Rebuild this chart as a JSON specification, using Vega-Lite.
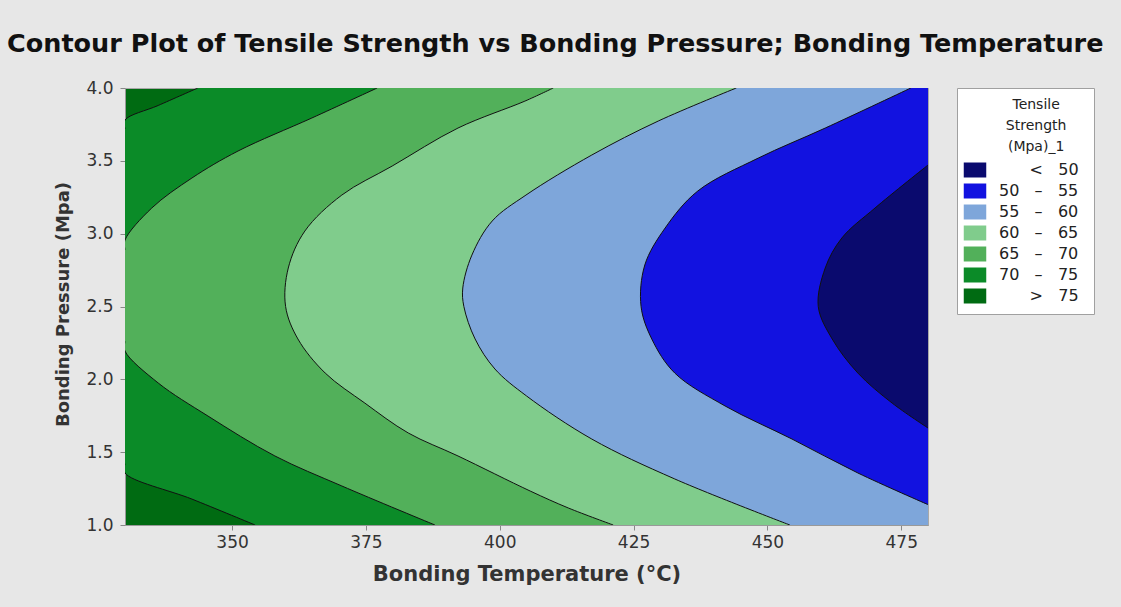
{
  "$schema": "https://vega.github.io/schema/vega-lite/v6.json",
  "autosize": {"type": "none"},
  "width": 803,
  "height": 437,
  "padding": {"left": 125, "top": 88, "right": 193, "bottom": 82},
  "background": "#e7e7e7",
  "view": {"fill": "#006b12", "stroke": "#a8a8a8", "strokeWidth": 1},
  "title": {
    "text": "Contour Plot of Tensile Strength vs Bonding Pressure; Bonding Temperature",
    "anchor": "start",
    "frame": "group",
    "dx": -118,
    "dy": 36,
    "offset": 38,
    "baseline": "alphabetic",
    "font": "DejaVu Sans",
    "fontSize": 25.5,
    "fontWeight": "bold",
    "color": "#111111"
  },
  "data": {
    "values": [
      {"lvl": 75, "seg": "75b", "band": "70 – 75", "P": 1.0, "T": 354.3},
      {"lvl": 75, "seg": "75b", "band": "70 – 75", "P": 1.178, "T": 342.5},
      {"lvl": 75, "seg": "75b", "band": "70 – 75", "P": 1.357, "T": 330.0},
      {"lvl": 75, "seg": "75b", "band": "70 – 75", "P": 1.42, "T": 330.0},
      {"lvl": 75, "seg": "75a", "band": "70 – 75", "P": 3.72, "T": 330.0},
      {"lvl": 75, "seg": "75a", "band": "70 – 75", "P": 3.78, "T": 330.0},
      {"lvl": 75, "seg": "75a", "band": "70 – 75", "P": 3.88, "T": 336.2},
      {"lvl": 75, "seg": "75a", "band": "70 – 75", "P": 4.0, "T": 343.6},

      {"lvl": 70, "seg": "70b", "band": "65 – 70", "P": 1.0, "T": 387.9},
      {"lvl": 70, "seg": "70b", "band": "65 – 70", "P": 1.268, "T": 370.5},
      {"lvl": 70, "seg": "70b", "band": "65 – 70", "P": 1.474, "T": 358.0},
      {"lvl": 70, "seg": "70b", "band": "65 – 70", "P": 1.748, "T": 345.5},
      {"lvl": 70, "seg": "70b", "band": "65 – 70", "P": 1.975, "T": 336.2},
      {"lvl": 70, "seg": "70b", "band": "65 – 70", "P": 2.194, "T": 330.0},
      {"lvl": 70, "seg": "70b", "band": "65 – 70", "P": 2.26, "T": 330.0},
      {"lvl": 70, "seg": "70a", "band": "65 – 70", "P": 2.89, "T": 330.0},
      {"lvl": 70, "seg": "70a", "band": "65 – 70", "P": 2.956, "T": 330.0},
      {"lvl": 70, "seg": "70a", "band": "65 – 70", "P": 3.176, "T": 335.0},
      {"lvl": 70, "seg": "70a", "band": "65 – 70", "P": 3.382, "T": 342.5},
      {"lvl": 70, "seg": "70a", "band": "65 – 70", "P": 3.567, "T": 351.1},
      {"lvl": 70, "seg": "70a", "band": "65 – 70", "P": 3.794, "T": 364.9},
      {"lvl": 70, "seg": "70a", "band": "65 – 70", "P": 4.0, "T": 377.1},

      {"lvl": 65, "seg": "65", "band": "60 – 65", "P": 1.0, "T": 421.2},
      {"lvl": 65, "seg": "65", "band": "60 – 65", "P": 1.117, "T": 412.8},
      {"lvl": 65, "seg": "65", "band": "60 – 65", "P": 1.233, "T": 405.7},
      {"lvl": 65, "seg": "65", "band": "60 – 65", "P": 1.474, "T": 392.2},
      {"lvl": 65, "seg": "65", "band": "60 – 65", "P": 1.632, "T": 382.9},
      {"lvl": 65, "seg": "65", "band": "60 – 65", "P": 1.837, "T": 374.8},
      {"lvl": 65, "seg": "65", "band": "60 – 65", "P": 2.043, "T": 367.4},
      {"lvl": 65, "seg": "65", "band": "60 – 65", "P": 2.277, "T": 362.3},
      {"lvl": 65, "seg": "65", "band": "60 – 65", "P": 2.5, "T": 360.0},
      {"lvl": 65, "seg": "65", "band": "60 – 65", "P": 2.764, "T": 360.5},
      {"lvl": 65, "seg": "65", "band": "60 – 65", "P": 3.018, "T": 363.6},
      {"lvl": 65, "seg": "65", "band": "60 – 65", "P": 3.265, "T": 370.5},
      {"lvl": 65, "seg": "65", "band": "60 – 65", "P": 3.464, "T": 379.9},
      {"lvl": 65, "seg": "65", "band": "60 – 65", "P": 3.725, "T": 392.2},
      {"lvl": 65, "seg": "65", "band": "60 – 65", "P": 3.91, "T": 404.7},
      {"lvl": 65, "seg": "65", "band": "60 – 65", "P": 4.0, "T": 410.0},

      {"lvl": 60, "seg": "60", "band": "55 – 60", "P": 1.0, "T": 454.2},
      {"lvl": 60, "seg": "60", "band": "55 – 60", "P": 1.316, "T": 432.7},
      {"lvl": 60, "seg": "60", "band": "55 – 60", "P": 1.59, "T": 417.2},
      {"lvl": 60, "seg": "60", "band": "55 – 60", "P": 1.886, "T": 405.0},
      {"lvl": 60, "seg": "60", "band": "55 – 60", "P": 2.071, "T": 399.1},
      {"lvl": 60, "seg": "60", "band": "55 – 60", "P": 2.277, "T": 395.4},
      {"lvl": 60, "seg": "60", "band": "55 – 60", "P": 2.5, "T": 393.3},
      {"lvl": 60, "seg": "60", "band": "55 – 60", "P": 2.627, "T": 393.1},
      {"lvl": 60, "seg": "60", "band": "55 – 60", "P": 2.853, "T": 394.8},
      {"lvl": 60, "seg": "60", "band": "55 – 60", "P": 3.087, "T": 398.6},
      {"lvl": 60, "seg": "60", "band": "55 – 60", "P": 3.265, "T": 404.9},
      {"lvl": 60, "seg": "60", "band": "55 – 60", "P": 3.54, "T": 417.2},
      {"lvl": 60, "seg": "60", "band": "55 – 60", "P": 3.773, "T": 429.6},
      {"lvl": 60, "seg": "60", "band": "55 – 60", "P": 4.0, "T": 444.2},

      {"lvl": 55, "seg": "55", "band": "50 – 55", "P": 1.14, "T": 480.0},
      {"lvl": 55, "seg": "55", "band": "50 – 55", "P": 1.357, "T": 466.9},
      {"lvl": 55, "seg": "55", "band": "50 – 55", "P": 1.59, "T": 454.6},
      {"lvl": 55, "seg": "55", "band": "50 – 55", "P": 1.817, "T": 442.1},
      {"lvl": 55, "seg": "55", "band": "50 – 55", "P": 2.043, "T": 432.7},
      {"lvl": 55, "seg": "55", "band": "50 – 55", "P": 2.277, "T": 428.4},
      {"lvl": 55, "seg": "55", "band": "50 – 55", "P": 2.5, "T": 426.4},
      {"lvl": 55, "seg": "55", "band": "50 – 55", "P": 2.785, "T": 427.1},
      {"lvl": 55, "seg": "55", "band": "50 – 55", "P": 3.039, "T": 430.9},
      {"lvl": 55, "seg": "55", "band": "50 – 55", "P": 3.293, "T": 437.0},
      {"lvl": 55, "seg": "55", "band": "50 – 55", "P": 3.519, "T": 448.3},
      {"lvl": 55, "seg": "55", "band": "50 – 55", "P": 3.725, "T": 460.8},
      {"lvl": 55, "seg": "55", "band": "50 – 55", "P": 4.0, "T": 476.8},

      {"lvl": 50, "seg": "50", "band": "< 50", "P": 1.666, "T": 480.0},
      {"lvl": 50, "seg": "50", "band": "< 50", "P": 1.837, "T": 473.3},
      {"lvl": 50, "seg": "50", "band": "< 50", "P": 2.043, "T": 466.9},
      {"lvl": 50, "seg": "50", "band": "< 50", "P": 2.277, "T": 462.1},
      {"lvl": 50, "seg": "50", "band": "< 50", "P": 2.5, "T": 459.5},
      {"lvl": 50, "seg": "50", "band": "< 50", "P": 2.764, "T": 460.8},
      {"lvl": 50, "seg": "50", "band": "< 50", "P": 2.97, "T": 463.9},
      {"lvl": 50, "seg": "50", "band": "< 50", "P": 3.176, "T": 470.1},
      {"lvl": 50, "seg": "50", "band": "< 50", "P": 3.471, "T": 480.0}
    ]
  },
  "encoding": {
    "x": {
      "field": "T",
      "type": "quantitative",
      "scale": {"domain": [330, 480], "nice": false, "zero": false},
      "axis": {
        "values": [350, 375, 400, 425, 450, 475],
        "title": "Bonding Temperature (°C)",
        "grid": false,
        "domainColor": "#999999",
        "tickColor": "#888888",
        "tickSize": 5,
        "labelFont": "DejaVu Sans",
        "labelFontSize": 17,
        "labelColor": "#333333",
        "labelPadding": 4,
        "titleFont": "DejaVu Sans",
        "titleFontSize": 21,
        "titleFontWeight": "bold",
        "titleColor": "#333333",
        "titleBaseline": "alphabetic",
        "titleY": 55
      }
    },
    "y": {
      "field": "P",
      "type": "quantitative",
      "scale": {"domain": [1, 4], "nice": false, "zero": false},
      "axis": {
        "values": [1, 1.5, 2, 2.5, 3, 3.5, 4],
        "format": ".1f",
        "title": "Bonding Pressure (Mpa)",
        "grid": false,
        "domainColor": "#999999",
        "tickColor": "#888888",
        "tickSize": 5,
        "labelFont": "DejaVu Sans",
        "labelFontSize": 17,
        "labelColor": "#333333",
        "labelPadding": 7,
        "titleFont": "DejaVu Sans",
        "titleFontSize": 18,
        "titleFontWeight": "bold",
        "titleColor": "#333333",
        "titleAngle": -90,
        "titleAlign": "center",
        "titleBaseline": "alphabetic",
        "titleX": -57,
        "titleY": 216
      }
    },
    "color": {
      "field": "band",
      "type": "nominal",
      "scale": {
        "domain": ["< 50", "50 – 55", "55 – 60", "60 – 65", "65 – 70", "70 – 75", "> 75"],
        "range": ["#0a0a6e", "#1212e0", "#7ea6da", "#80cc8c", "#52b05a", "#0b8b28", "#006b12"]
      },
      "legend": {
        "title": ["\u200b\u00a0\u00a0\u00a0\u00a0\u00a0Tensile", "\u200b\u00a0\u00a0\u00a0\u00a0\u00a0Strength", "\u200b\u00a0\u00a0\u00a0\u00a0\u00a0(Mpa)_1"],
        "orient": "none",
        "legendX": 832,
        "legendY": 0,
        "direction": "vertical",
        "padding": 10,
        "fillColor": "#ffffff",
        "strokeColor": "#a0a0a0",
        "titleFont": "DejaVu Sans",
        "titleFontSize": 14,
        "titleFontWeight": "normal",
        "titleColor": "#222222",
        "titleAlign": "center",
        "titleAnchor": "middle",
        "titleLineHeight": 21,
        "titlePadding": 8,
        "labelFont": "DejaVu Sans",
        "labelFontSize": 16,
        "labelColor": "#222222",
        "labelOffset": 16,
        "labelExpr": "datum.label === '< 50' ? '\u200b\u2007\u2007\u2007<\u00a0\u00a0\u00a050\u00a0\u200b' : datum.label === '> 75' ? '\u200b\u2007\u2007\u2007>\u00a0\u00a0\u00a075\u00a0\u200b' : replace(datum.label, ' – ', '\u00a0\u00a0\u00a0–\u00a0\u00a0\u00a0') + '\u00a0\u200b'",
        "symbolType": "M-1.5,-1L1.5,-1L1.5,1L-1.5,1Z",
        "symbolSize": 225,
        "symbolStrokeWidth": 0,
        "symbolOpacity": 1,
        "rowPadding": 5
      }
    }
  },
  "layer": [
    {
      "transform": [{"filter": "datum.lvl == 75"}],
      "mark": {"type": "area", "orient": "horizontal", "interpolate": "catmull-rom", "clip": true, "opacity": 1},
      "encoding": {"x2": {"datum": 480}}
    },
    {
      "transform": [{"filter": "datum.lvl == 70"}],
      "mark": {"type": "area", "orient": "horizontal", "interpolate": "catmull-rom", "clip": true, "opacity": 1},
      "encoding": {"x2": {"datum": 480}}
    },
    {
      "transform": [{"filter": "datum.lvl == 65"}],
      "mark": {"type": "area", "orient": "horizontal", "interpolate": "catmull-rom", "clip": true, "opacity": 1},
      "encoding": {"x2": {"datum": 480}}
    },
    {
      "transform": [{"filter": "datum.lvl == 60"}],
      "mark": {"type": "area", "orient": "horizontal", "interpolate": "catmull-rom", "clip": true, "opacity": 1},
      "encoding": {"x2": {"datum": 480}}
    },
    {
      "transform": [{"filter": "datum.lvl == 55"}],
      "mark": {"type": "area", "orient": "horizontal", "interpolate": "catmull-rom", "clip": true, "opacity": 1},
      "encoding": {"x2": {"datum": 480}}
    },
    {
      "transform": [{"filter": "datum.lvl == 50"}],
      "mark": {"type": "area", "orient": "horizontal", "interpolate": "catmull-rom", "clip": true, "opacity": 1},
      "encoding": {"x2": {"datum": 480}}
    },
    {
      "mark": {"type": "line", "interpolate": "catmull-rom", "clip": true, "strokeWidth": 1},
      "encoding": {
        "color": {"value": "#111111"},
        "detail": {"field": "seg", "type": "nominal"},
        "order": {"field": "P", "type": "quantitative"}
      }
    }
  ]
}
